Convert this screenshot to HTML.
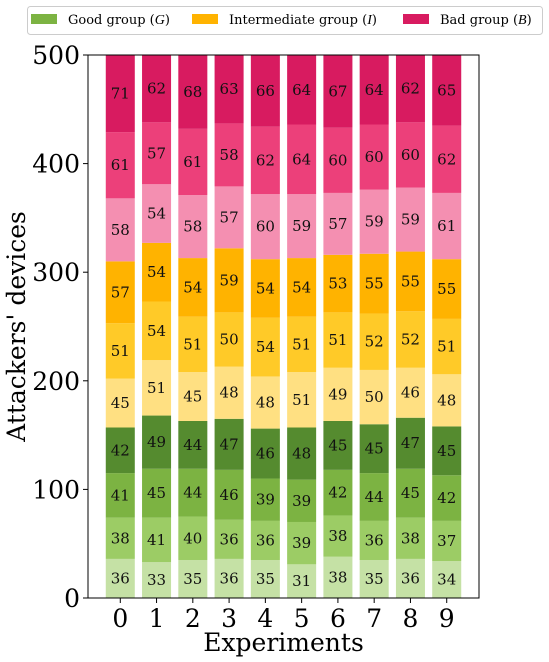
<!DOCTYPE html>
<html><head><meta charset="utf-8"><style>
body{margin:0;background:#fff;width:549px;height:662px;overflow:hidden}
svg{display:block}
text{font-family:"DejaVu Serif","Liberation Serif",serif}
</style></head><body>
<svg id="chart" width="549" height="662"></svg>
<script>
const categories = ["0","1","2","3","4","5","6","7","8","9"];
const seg0 = [36,33,35,36,35,31,38,35,36,34];
const seg1 = [38,41,40,36,36,39,38,36,38,37];
const seg2 = [41,45,44,46,39,39,42,44,45,42];
const seg3 = [42,49,44,47,46,48,45,45,47,45];
const seg4 = [45,51,45,48,48,51,49,50,46,48];
const seg5 = [51,54,51,50,54,51,51,52,52,51];
const seg6 = [57,54,54,59,54,54,53,55,55,55];
const seg7 = [58,54,58,57,60,59,57,59,59,61];
const seg8 = [61,57,61,58,62,64,60,60,60,62];
const seg9 = [71,62,68,63,66,64,67,64,62,65];
const yTicks = [0,100,200,300,400,500];
const legendLabels = ["Good group","Intermediate group","Bad group"];
const legendSymbols = ["G","I","B"];

const series = [seg0,seg1,seg2,seg3,seg4,seg5,seg6,seg7,seg8,seg9];
const colors = ["#c5e1a5","#9ccc65","#7cb342","#558b2f","#ffe082","#ffca28","#ffb300","#f48fb1","#ec407a","#d81b60"];
const NS="http://www.w3.org/2000/svg";
const svg=document.getElementById('chart');
const L=88,R=479,T=55,B=598;
const xMin=-0.89,xMax=9.89,yMax=500;
const x=v=>L+(v-xMin)/(xMax-xMin)*(R-L);
const y=v=>B-v/yMax*(B-T);
const bw=0.8*(x(1)-x(0));
function mk(tag,attrs,parent){const e=document.createElementNS(NS,tag);for(const k in attrs)e.setAttribute(k,attrs[k]);(parent||svg).appendChild(e);return e;}

categories.forEach((c,i)=>{
  let base=0;
  series.forEach((s,j)=>{
    const v=s[i];
    const r=mk('rect',{x:x(i)-bw/2,y:y(base+v),width:bw,height:y(base)-y(base+v),fill:colors[j]});
    
    
    const t=mk('text',{x:x(i),y:(y(base)+y(base+v))/2+5,'text-anchor':'middle','font-size':15,fill:'#111'});
    t.textContent=v;
    
    
    base+=v;
  });
  const tk=mk('line',{x1:x(i),x2:x(i),y1:B,y2:B+5,stroke:'#000'});
  
  
  const tl=mk('text',{x:x(i),y:B+29,'text-anchor':'middle','font-size':25});
  tl.textContent=c;
  
  
});
yTicks.forEach(v=>{
  const tk=mk('line',{x1:L-5,x2:L,y1:y(v),y2:y(v),stroke:'#000'});
  
  
  const tl=mk('text',{x:L-8,y:y(v)+9,'text-anchor':'end','font-size':25});
  tl.textContent=v;
  
  
});
const frame=mk('rect',{x:L,y:T,width:R-L,height:B-T,fill:'none',stroke:'#000','stroke-width':1});


const xt=mk('text',{x:(L+R)/2,y:651,'text-anchor':'middle','font-size':25});
xt.textContent='Experiments';


const yt=mk('text',{x:0,y:0,'text-anchor':'middle','font-size':25,transform:'translate(25,'+((T+B)/2)+') rotate(-90)'});
yt.textContent="Attackers' devices";



const lb=mk('rect',{x:27.5,y:6.5,width:515,height:28,rx:3,fill:'#fff',stroke:'#ccc'});


const lx=[31,192,403], lc=["#7cb342","#ffb300","#d81b60"];
legendLabels.forEach((s,i)=>{
  const sw=mk('rect',{x:lx[i],y:14,width:26,height:10,fill:lc[i]});
  
  
  const t=mk('text',{x:lx[i]+37,y:24,'font-size':13});
  t.appendChild(document.createTextNode(s+' ('));
  const ts=mk('tspan',{'font-style':'italic','font-family':'Liberation Serif, serif','font-size':14},t);
  ts.textContent=legendSymbols[i];
  t.appendChild(document.createTextNode(')'));
  
  
});
</script>
</body></html>
